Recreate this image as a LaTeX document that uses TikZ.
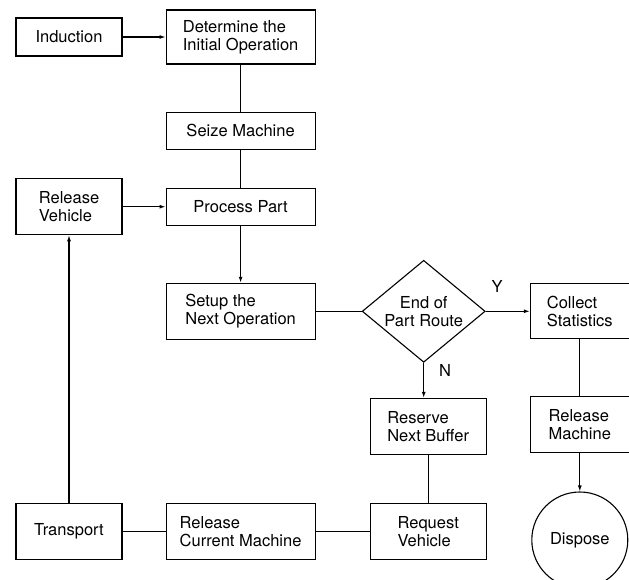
\documentclass[tikz,border=0pt]{standalone}
\usepackage{fontspec}
\setmainfont{TeX Gyre Heros}
\usetikzlibrary{positioning, shapes.geometric, arrows.meta}

\tikzset{
  block/.style={draw, rectangle, align=left, inner sep=2pt, font=\fontsize{16.5}{18}\selectfont},
  narrow/.style={block, minimum width=106pt},
  wide/.style={block, minimum width=149pt},
  mid/.style={block, minimum width=116pt},
  slim/.style={block, minimum width=99pt},
  one/.style={minimum height=38pt},
  two/.style={minimum height=56pt},
  decision/.style={draw, diamond, aspect=1.23, inner sep=0pt, minimum width=123pt, minimum height=102pt, align=center, font=\fontsize{16.5}{18}\selectfont},
  terminal/.style={draw, circle, minimum size=96pt, inner sep=0pt, font=\fontsize{16.5}{18}\selectfont},
  flow/.style={-{Latex[length=6pt,width=4pt]}},
  tag/.style={font=\fontsize{16.5}{18}\selectfont}
}

\begin{document}
\begin{tikzpicture}[line width=1.1pt]
        \useasboundingbox (0,0) rectangle (629pt,-580pt);

        \node[narrow, one] (induction) at (69pt,-37pt) {Induction};
        \node[wide, minimum height=54pt] (determine) [right=43pt of induction] {Determine the\\Initial Operation};
        \node[wide, minimum height=37pt] (seize) [below=47pt of determine] {Seize Machine};
        \node[wide, minimum height=37pt] (process) [below=38pt of seize] {Process Part};
        \node[narrow, two] (relveh) [left=43pt of process] {Release\\Vehicle};
        \node[wide, two] (setup) [below=57pt of process] {Setup the\\Next Operation};
        \node[decision] (route) [right=46pt of setup] {End of\\Part Route};
        \node[slim, minimum height=55pt] (collect) [right=44pt of route] {Collect\\Statistics};
        \node[mid, two] (reserve) [below=35pt of route, xshift=4.5pt] {Reserve\\Next Buffer};
        \node[slim, two] (relmach) [below=57pt of collect] {Release\\Machine};
        \node[mid, two] (request) [below=48pt of reserve] {Request\\Vehicle};
        \node[wide, two] (relcur) [left=54pt of request] {Release\\Current Machine};
        \node[narrow, two] (transport) [left=43pt of relcur] {Transport};
        \node[terminal] (dispose) [below=38pt of relmach] {Dispose};

        \draw[flow] (induction) -- (determine);
        \draw (determine) -- (seize);
        \draw (seize) -- (process);
        \draw[flow] (relveh) -- (process);
        \draw[flow] (process) -- (setup);
        \draw (setup) -- (route);
        \draw[flow] (route) -- (collect);
        \draw[flow] (route.south) -- (route.south |- reserve.north);
        \draw (collect) -- (relmach);
        \draw[flow] (relmach) -- (dispose);
        \draw (reserve) -- (request);
        \draw (request) -- (relcur);
        \draw (relcur) -- (transport);
        \draw[flow] (transport) -- (relveh);

        \node[tag] (yes) at (497pt,-286pt) {Y};
        \node[tag] (no) at (445pt,-370pt) {N};
\end{tikzpicture}
\end{document}
